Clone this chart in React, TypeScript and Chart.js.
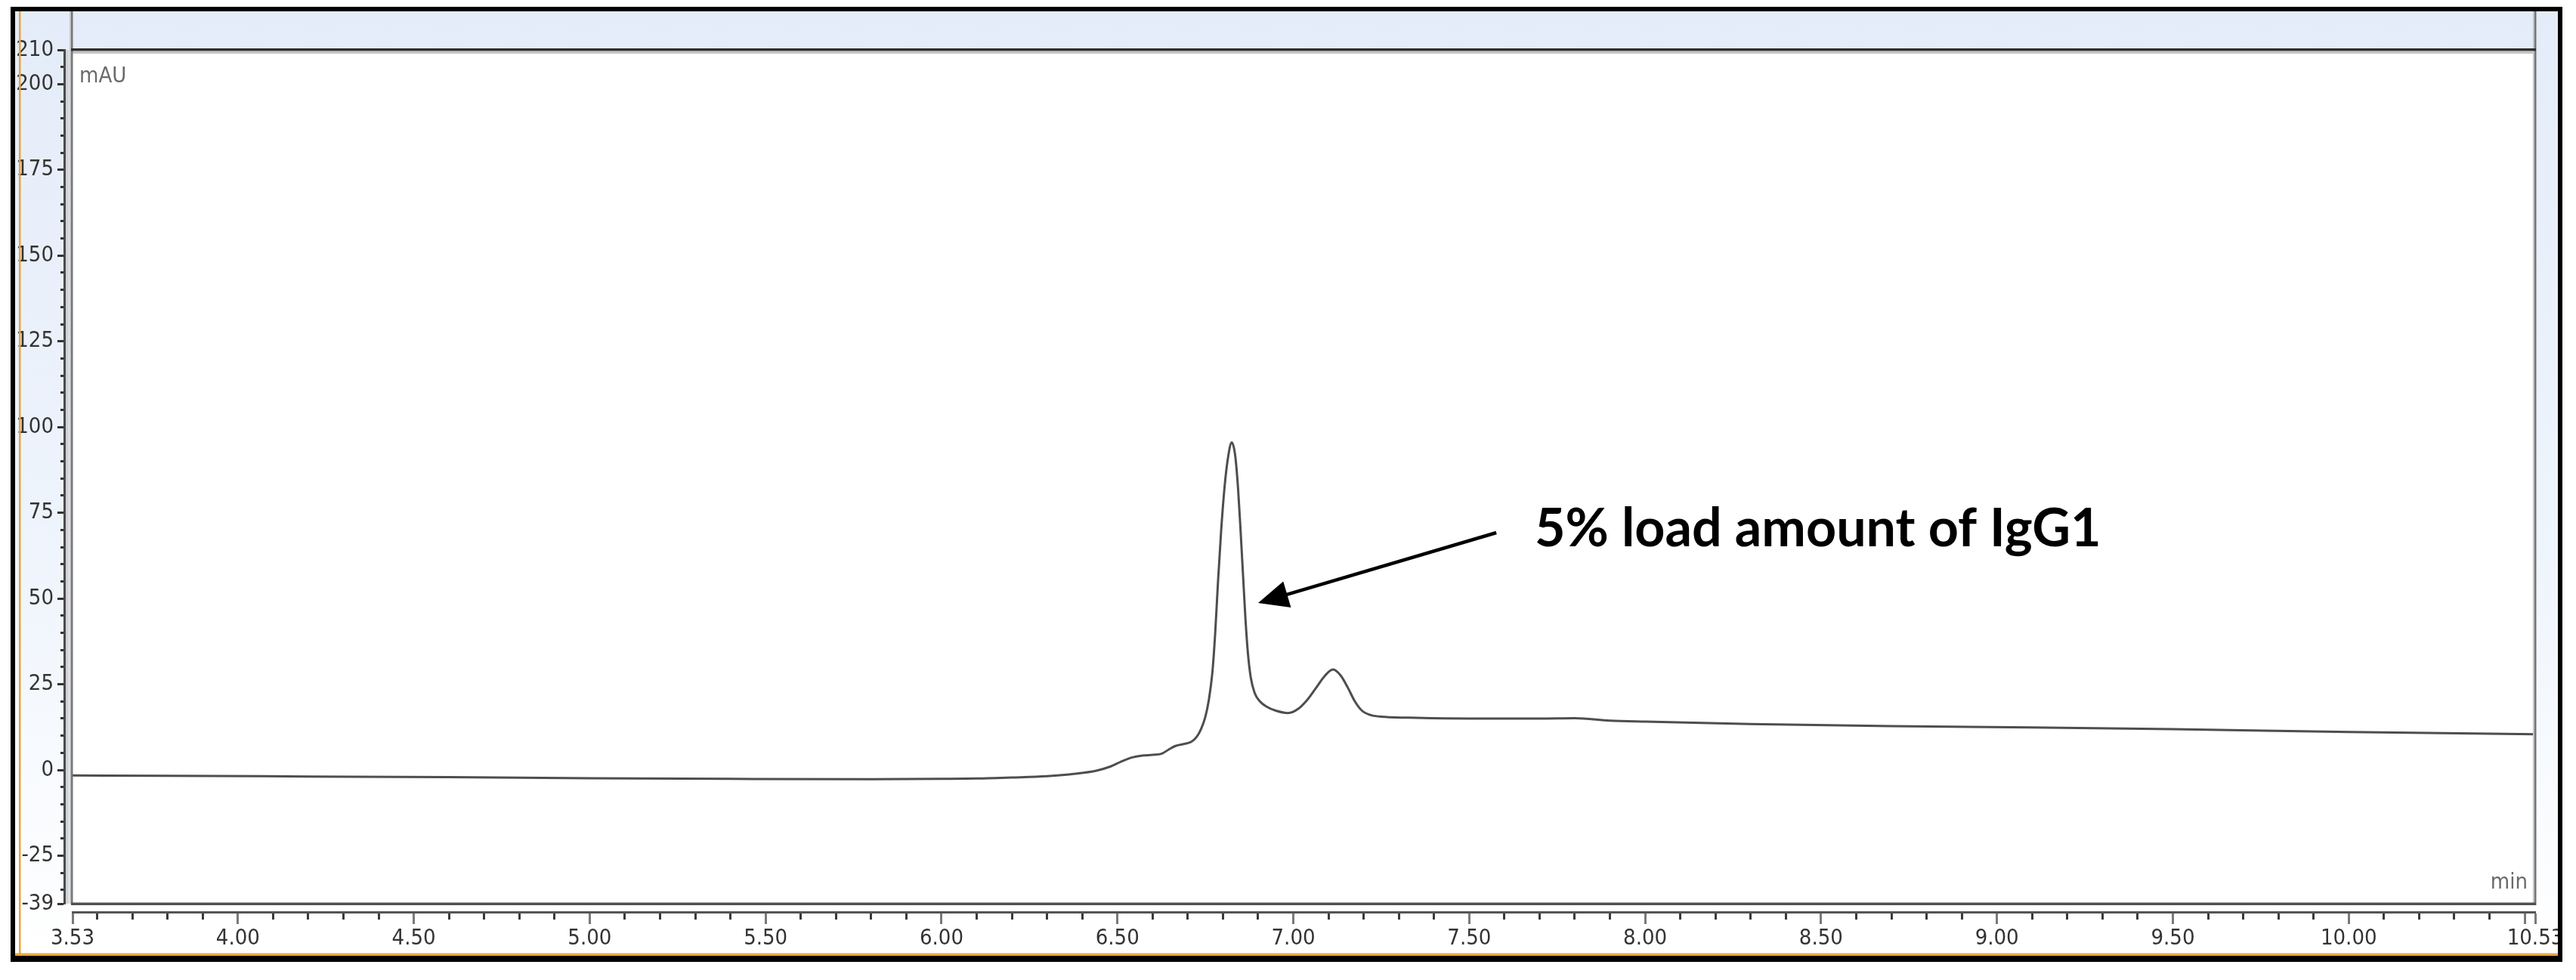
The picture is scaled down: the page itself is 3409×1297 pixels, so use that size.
import React, { useEffect, useRef } from "react";
import { Chart, registerables } from "chart.js";

Chart.register(...registerables);

// ---------------- data ----------------
const TIME_MIN = [
  3.53, 3.8, 4.2, 4.6, 5.0, 5.4, 5.8, 6.0, 6.1, 6.2, 6.3, 6.38, 6.44, 6.48, 6.51, 6.54, 6.57, 6.6,
  6.625, 6.645, 6.665, 6.69, 6.71, 6.725, 6.738, 6.75, 6.76, 6.77, 6.778, 6.786, 6.795, 6.805,
  6.815, 6.825, 6.835, 6.843, 6.85, 6.857, 6.864, 6.871, 6.879, 6.89, 6.905, 6.925, 6.95, 6.985,
  7.015, 7.04, 7.065, 7.09, 7.113, 7.135, 7.155, 7.175, 7.195, 7.22, 7.26, 7.35, 7.5, 7.7, 7.8,
  7.9, 8.0, 8.3, 8.7, 9.1, 9.5, 10.0, 10.53,
];
const SIGNAL_MAU = [
  -1.6, -1.7, -1.9, -2.1, -2.4, -2.6, -2.7, -2.6, -2.5, -2.2, -1.8, -1.1, -0.2, 1.0, 2.4, 3.6, 4.2, 4.4,
  4.7, 5.9, 7.0, 7.6, 8.2, 9.6, 12.0, 15.5, 20.5, 28.5, 40, 55, 70, 83,
  91.5, 95.5, 91.5, 82, 70, 57, 44, 34, 27, 22.5, 20.0, 18.4, 17.3, 16.6,
  17.9, 20.5, 24.0, 27.5, 29.3, 27.5, 24.0, 20.0, 17.3, 16.0, 15.5, 15.2, 15.0, 15.0, 15.1,
  14.4, 14.1, 13.4, 12.8, 12.4, 11.9, 11.1, 10.4,
];

const X_RANGE = [3.53, 10.53];
const Y_RANGE = [-39, 210];
const X_LABELED_TICKS = [3.53, 4.0, 4.5, 5.0, 5.5, 6.0, 6.5, 7.0, 7.5, 8.0, 8.5, 9.0, 9.5, 10.0, 10.53];
const X_UNLABELED_MAJOR_TICKS = [10.5];
const X_MINOR_STEP = 0.1;
const Y_LABELED_TICKS = [210, 200, 175, 150, 125, 100, 75, 50, 25, 0, -25, -39];
const Y_MINOR_STEP = 5;
const Y_UNIT = "mAU";
const X_UNIT = "min";
const ANNOTATION_TEXT = "5% load amount of IgG1";
// annotation anchors in data units (time, mAU)
const ANNOTATION_TEXT_AT = [7.686, 65.2];
const ARROW_FROM = [7.577, 69.2];
const ARROW_TO = [6.9, 48.7];

// ---------------- helpers ----------------
const near = (a: number, b: number) => Math.abs(a - b) < 1e-6;
const inList = (v: number, list: number[]) => list.some((t) => near(t, v));

function buildXTicks(): number[] {
  const set: number[] = [...X_LABELED_TICKS, ...X_UNLABELED_MAJOR_TICKS];
  const start = Math.ceil(X_RANGE[0] / X_MINOR_STEP + 1e-9);
  const end = Math.floor(X_RANGE[1] / X_MINOR_STEP + 1e-9);
  for (let i = start; i <= end; i++) {
    const v = Math.round(i * X_MINOR_STEP * 100) / 100;
    if (!inList(v, set)) set.push(v);
  }
  return set.sort((a, b) => a - b);
}
function buildYTicks(): number[] {
  const set: number[] = [...Y_LABELED_TICKS];
  for (let v = Math.ceil(Y_RANGE[0] / Y_MINOR_STEP) * Y_MINOR_STEP; v <= Y_RANGE[1]; v += Y_MINOR_STEP) {
    if (!inList(v, set)) set.push(v);
  }
  return set.sort((a, b) => a - b);
}
const X_TICKS = buildXTicks();
const Y_TICKS = buildYTicks();
const isXMajor = (v: number) => inList(v, X_LABELED_TICKS) || inList(v, X_UNLABELED_MAJOR_TICKS);
const isYMajor = (v: number) => inList(v, Y_LABELED_TICKS);

const AXIS_FONT = '"Liberation Sans Narrow", "DejaVu Sans Condensed", "Liberation Sans", sans-serif';

const W = 3409;
const H = 1297;

const framePlugin = {
  id: "framePlugin",
  beforeDraw(chart: any) {
    const { ctx, chartArea: ca } = chart;
    ctx.save();
    ctx.fillStyle = "#ffffff";
    ctx.fillRect(0, 0, W, H);
    const g = ctx.createLinearGradient(0, 15, 0, 1262);
    g.addColorStop(0, "#e4ecf9");
    g.addColorStop(0.55, "#eef4fc");
    g.addColorStop(1, "#ffffff");
    ctx.fillStyle = g;
    ctx.fillRect(20, 15, 3365, 1247);
    ctx.fillStyle = "#ffffff";
    ctx.fillRect(ca.left, ca.top, ca.right - ca.left, ca.bottom - ca.top);
    // white area of the x axis
    ctx.fillRect(ca.left - 12, ca.bottom, ca.right - ca.left + 24, 1262 - ca.bottom);
    ctx.restore();
  },
  afterDraw(chart: any) {
    const { ctx, chartArea: ca, scales } = chart;
    const x = scales.x;
    const y = scales.y;
    ctx.save();
    // light shadow next to y axis line
    ctx.fillStyle = "#cfd3d8";
    ctx.fillRect(y.right + 2, y.top, 4, y.bottom - y.top);
    // plot frame
    ctx.fillStyle = "#c4c4c4";
    ctx.fillRect(ca.left - 4, 15, 2, ca.bottom - 15);
    ctx.fillRect(ca.right - 3, 15, 2, ca.bottom - 15);
    ctx.fillRect(ca.left, ca.top + 2, ca.right - ca.left, 3);
    ctx.fillStyle = "#767676";
    ctx.fillRect(ca.left - 2, 15, 2.5, ca.bottom - 15 + 2);
    ctx.fillRect(ca.right - 1, 15, 2.5, ca.bottom - 15 + 2);
    ctx.fillStyle = "#2f2f2f";
    ctx.fillRect(ca.left - 2, ca.top - 2, ca.right - ca.left + 3, 3.5);
    ctx.fillStyle = "#505050";
    ctx.fillRect(ca.left - 2, ca.bottom - 1.5, ca.right - ca.left + 3, 3.5);

    // unit labels
    ctx.font = `29px ${AXIS_FONT}`;
    ctx.fillStyle = "#6a6a6a";
    ctx.textBaseline = "alphabetic";
    ctx.textAlign = "left";
    ctx.fillText(Y_UNIT, ca.left + 9, ca.top + 43);
    ctx.textAlign = "right";
    ctx.fillText(X_UNIT, ca.right - 10, ca.bottom - 20);

    // annotation
    const tx = x.getPixelForValue(ANNOTATION_TEXT_AT[0]);
    const ty = y.getPixelForValue(ANNOTATION_TEXT_AT[1]);
    ctx.fillStyle = "#000000";
    ctx.textAlign = "left";
    ctx.font = `bold 70px Lato, "Open Sans", sans-serif`;
    ctx.fillText(ANNOTATION_TEXT, tx, ty);

    // arrow
    const ax0 = x.getPixelForValue(ARROW_FROM[0]);
    const ay0 = y.getPixelForValue(ARROW_FROM[1]);
    const ax1 = x.getPixelForValue(ARROW_TO[0]);
    const ay1 = y.getPixelForValue(ARROW_TO[1]);
    const ang = Math.atan2(ay1 - ay0, ax1 - ax0);
    const headLen = 40;
    const headHalf = 18;
    const bx = ax1 - headLen * Math.cos(ang);
    const by = ay1 - headLen * Math.sin(ang);
    ctx.strokeStyle = "#000";
    ctx.lineWidth = 4.5;
    ctx.beginPath();
    ctx.moveTo(ax0, ay0);
    ctx.lineTo(bx + 4 * Math.cos(ang), by + 4 * Math.sin(ang));
    ctx.stroke();
    ctx.fillStyle = "#000";
    ctx.beginPath();
    ctx.moveTo(ax1, ay1);
    ctx.lineTo(bx - headHalf * Math.sin(ang), by + headHalf * Math.cos(ang));
    ctx.lineTo(bx + headHalf * Math.sin(ang), by - headHalf * Math.cos(ang));
    ctx.closePath();
    ctx.fill();

    // orange inner lines
    ctx.fillStyle = "#eda43c";
    ctx.fillRect(25, 15, 2.5, 1250 - 2);
    ctx.fillRect(20, 1261.5, 3365, 3.5);
    // outer black frame
    ctx.fillStyle = "#000000";
    ctx.fillRect(14, 9, 3377, 6);
    ctx.fillRect(14, 9, 6, 1264);
    ctx.fillRect(3385, 9, 6, 1264);
    ctx.fillRect(14, 1265, 3377, 8);
    ctx.restore();
  },
};

export default function App() {
  const ref = useRef<HTMLCanvasElement | null>(null);

  useEffect(() => {
    document.body.style.margin = "0";
    document.body.style.overflow = "hidden";
    const canvas = ref.current;
    if (!canvas) return;
    const data = TIME_MIN.map((t, i) => ({ x: t, y: SIGNAL_MAU[i] }));
    const chart = new Chart(canvas, {
      type: "line",
      data: {
        datasets: [
          {
            data,
            borderColor: "#4e4e4e",
            borderWidth: 3,
            pointRadius: 0,
            fill: false,
            cubicInterpolationMode: "monotone",
            xAxisID: "x",
            yAxisID: "y",
          },
        ],
      },
      options: {
        responsive: false,
        animation: false,
        devicePixelRatio: 1,
        layout: { padding: { left: 19, top: 66, right: 54, bottom: 35 } },
        plugins: { legend: { display: false }, tooltip: { enabled: false }, title: { display: false } },
        scales: {
          x: {
            type: "linear",
            position: "bottom",
            weight: 1,
            min: X_RANGE[0],
            max: X_RANGE[1],
            afterBuildTicks: (s: any) => {
              s.ticks = X_TICKS.map((v) => ({ value: v }));
            },
            afterFit: (s: any) => {
              s.height = 55;
            },
            grid: {
              display: true,
              drawOnChartArea: false,
              drawTicks: true,
              tickLength: 16,
              tickWidth: 3,
              tickColor: (c: any) => (c.tick && isXMajor(c.tick.value) ? "#7a7a7a" : "#3a3a3a"),
              tickBorderDash: (c: any) => (c.tick && isXMajor(c.tick.value) ? [] : [8, 100]),
            },
            border: { display: true, color: "#555555", width: 3 },
            ticks: {
              autoSkip: false,
              maxRotation: 0,
              minRotation: 0,
              padding: 2,
              color: "#333333",
              font: { family: AXIS_FONT, size: 29 },
              callback: (v: any) => (inList(Number(v), X_LABELED_TICKS) ? Number(v).toFixed(2) : ""),
            },
          },
          xGap: {
            type: "linear",
            position: "bottom",
            weight: 0,
            display: true,
            grid: { display: false },
            border: { display: false },
            ticks: { display: false },
            afterFit: (s: any) => {
              s.height = 11;
            },
          },
          y: {
            type: "linear",
            position: "left",
            weight: 1,
            min: Y_RANGE[0],
            max: Y_RANGE[1],
            afterBuildTicks: (s: any) => {
              s.ticks = Y_TICKS.map((v) => ({ value: v }));
            },
            afterFit: (s: any) => {
              s.width = 66;
            },
            grid: {
              display: true,
              drawOnChartArea: false,
              drawTicks: true,
              tickLength: 9,
              tickWidth: 3,
              tickColor: "#333333",
              tickBorderDash: (c: any) => (c.tick && isYMajor(c.tick.value) ? [] : [0, 4, 5, 100]),
            },
            border: { display: true, color: "#4a4a4a", width: 3 },
            ticks: {
              autoSkip: false,
              padding: 5,
              color: "#333333",
              font: { family: AXIS_FONT, size: 29 },
              callback: (v: any) => (inList(Number(v), Y_LABELED_TICKS) ? String(Math.round(Number(v))) : ""),
            },
          },
          yGap: {
            type: "linear",
            position: "left",
            weight: 0,
            display: true,
            grid: { display: false },
            border: { display: false },
            ticks: { display: false },
            afterFit: (s: any) => {
              s.width = 11;
            },
          },
        },
      },
      plugins: [framePlugin],
    } as any);
    return () => chart.destroy();
  }, []);

  return (
    <div style={{ position: "absolute", left: 0, top: 0, width: W, height: H, background: "#fff" }}>
      <canvas ref={ref} width={W} height={H} style={{ width: W, height: H, display: "block" }} />
    </div>
  );
}
